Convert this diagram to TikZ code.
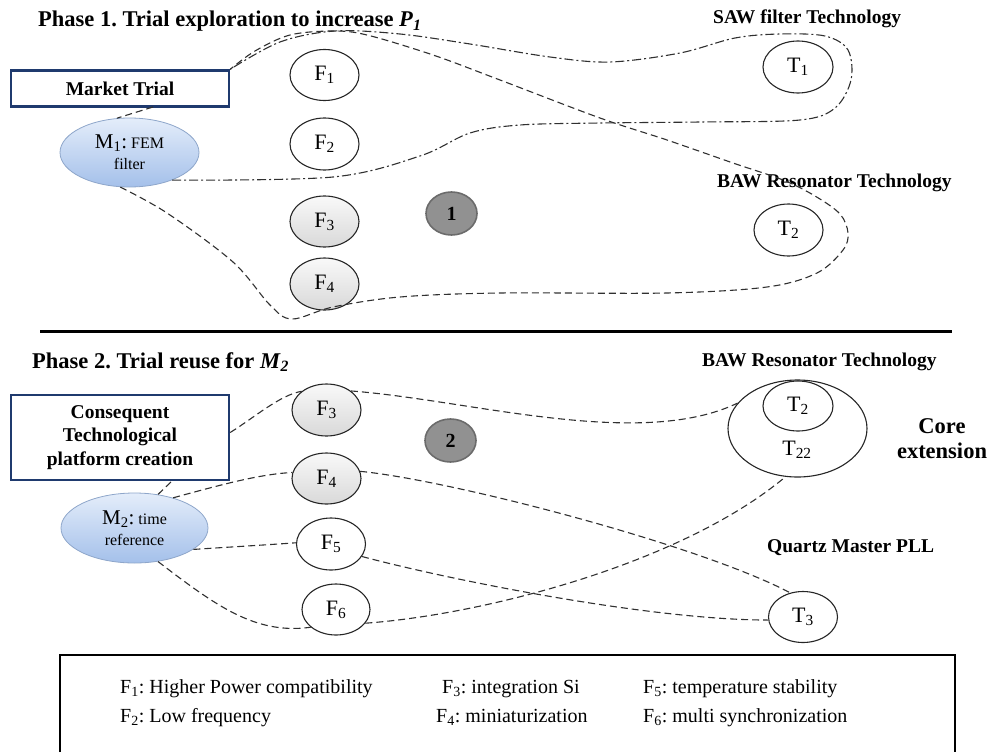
\documentclass[tikz,border=0pt]{standalone}
\usepackage{fontspec}
\setmainfont{Liberation Serif}
\usetikzlibrary{shapes.geometric}
\definecolor{navy}{HTML}{1F3A6E}
\definecolor{mtop}{HTML}{E4EDFA}
\definecolor{mbot}{HTML}{A4C0EA}
\definecolor{mbord}{HTML}{8EA6CA}
\definecolor{curvecol}{HTML}{303030}
\newcommand\setfs[1]{\fontsize{#1}{#1}\selectfont}
\begin{document}
\frenchspacing
\begin{tikzpicture}[x=1pt,y=-1pt,
  fell/.style={ellipse, draw=black!85, line width=1.1pt, inner sep=0pt,
    minimum width=69pt, minimum height=51pt, fill=white, font=\setfs{22}},
  gell/.style={fell, top color=gray!5, bottom color=gray!30},
  mell/.style={ellipse, draw=mbord, line width=0.8pt, top color=mtop,
    bottom color=mbot, inner sep=0pt, align=center, font=\fontsize{16}{21}\selectfont},
  numc/.style={ellipse, draw=black!58, line width=1.6pt, fill=black!43,
    inner sep=0pt, minimum width=51pt, minimum height=43pt, font=\bfseries\setfs{20}},
  navybox/.style={draw=navy, line width=2.4pt, fill=white, align=center,
    inner sep=0pt, font=\bfseries\fontsize{19.5}{23.5}\selectfont},
  dashc/.style={draw=curvecol, line width=1.1pt, dash pattern=on 7pt off 4pt},
  dashdotc/.style={draw=curvecol, line width=1.1pt, dash pattern=on 9pt off 3pt on 2pt off 3pt},
  lbl/.style={font=\bfseries\setfs{19.5}, inner sep=0pt, anchor=base west},
  ttl/.style={font=\bfseries\setfs{22.5}, inner sep=0pt, anchor=base west},
  leg/.style={font=\setfs{20}, inner sep=0pt, anchor=base west}
]
\useasboundingbox (0,0) rectangle (992,752);

% ---------- Phase 1 ----------
\node[ttl] (title1) at (38,27) {Phase 1. Trial exploration to increase \textit{P}\textsubscript{\textit{1}}};
\node[lbl] (saw) at (713,24) {SAW filter Technology};
\node[lbl] (baw1) at (717,187) {BAW Resonator Technology};

\node[navybox, minimum width=218pt, minimum height=36pt] (MT) at (120,88.5) {Market Trial};
\node[mell, minimum width=139pt, minimum height=69pt] (M1) at (129.5,152.5)
  {{\fontsize{21}{21}\selectfont M\textsubscript{1}:} FEM\\filter};

\node[fell] (F1) at (324.5,75) {F\textsubscript{1}};
\node[fell, minimum height=52pt] (F2) at (324.5,144) {F\textsubscript{2}};
\node[gell] (F3) at (324.5,221.5) {F\textsubscript{3}};
\node[gell, minimum height=52pt] (F4) at (324.5,284) {F\textsubscript{4}};
\node[numc] (n1) at (451.5,213.5) {1};

\node[fell, minimum width=70pt, minimum height=52pt] (T1) at (798,67) {T\textsubscript{1}};
\node[fell, minimum height=52pt] (T2) at (788.5,230) {T\textsubscript{2}};

\coordinate (mt1) at (153,107);
\draw[dashc] (mt1) -- (M1.110);

\draw[dashdotc] plot[smooth, tension=0.55] coordinates {
  (M1.-33) (333,177) (420,156) (470,133) (520,125) (600,123) (700,122)
  (800,120) (835,108) (851,80) (848,50) (825,36) (780,34) (735,38)
  (680,53) (610,62) (550,57) (470,44) (400,34) (335,31) (280,42) (MT.north east)};

\draw[dashc] plot[smooth, tension=0.55] coordinates {
  (M1.-105) (167,213) (233,262) (270,305) (292,319) (333,307) (400,297)
  (500,293) (667,293) (767,287) (817,273) (843,250) (848,233) (840,214)
  (815,196) (783,180) (733,163) (667,140) (600,118) (500,80) (433,55)
  (367,35) (333,31) (290,35) (255,51) (MT.north east)};

% ---------- separator ----------
\coordinate (sepL) at (40,331);
\coordinate (sepR) at (952,331);
\draw[line width=3pt] (sepL) -- (sepR);

% ---------- Phase 2 ----------
\node[ttl] (title2) at (32,368) {Phase 2. Trial reuse for \textit{M}\textsubscript{\textit{2}}};
\node[lbl] (baw2) at (702,366) {BAW Resonator Technology};
\node[lbl] (quartz) at (767,552) {Quartz Master PLL};
\node[font=\bfseries\fontsize{22.5}{25}\selectfont, align=center, inner sep=0pt]
  (core) at (942,439) {Core\\extension};

\node[navybox, minimum width=218pt, minimum height=85pt] (CB) at (120,437.5)
  {Consequent\\Technological\\platform creation};
\node[mell, minimum width=147pt, minimum height=70pt] (M2) at (134.5,528)
  {{\fontsize{21}{21}\selectfont M\textsubscript{2}:} time\\reference};

\node[gell, minimum height=52pt] (F3b) at (326.5,410) {F\textsubscript{3}};
\node[numc] (n2) at (450.5,440.5) {2};
\node[gell] (F4b) at (326.5,478.5) {F\textsubscript{4}};
\node[fell, minimum height=52pt] (F5) at (331,544) {F\textsubscript{5}};
\node[fell, minimum width=68pt] (F6) at (336,609.5) {F\textsubscript{6}};

\node[ellipse, draw=black!85, line width=1.1pt, minimum width=139pt,
  minimum height=97pt, inner sep=0pt] (T22) at (797.5,428.5) {};
\node[fell, minimum width=70pt, minimum height=50pt] (T2b) at (798,406) {T\textsubscript{2}};
\node[font=\setfs{22}, inner sep=0pt] (T22t) at (797,450) {T\textsubscript{22}};
\node[fell] (T3) at (803,617) {T\textsubscript{3}};

\coordinate (cb1) at (173,480);
\draw[dashc] (M2.55) -- (cb1);
\draw[dashc] ([yshift=5pt]CB.east) .. controls (255,417) and (280,395) .. (F3b.143);
\draw[dashc] (F3b.38) .. controls (470,400) and (640,450) .. (T22.157);
\draw[dashc] (M2.38) .. controls (220,485) and (260,474) .. (F4b.170);
\draw[dashc] (F4b.12) .. controls (450,480) and (700,545) .. (T3.118);
\draw[dashc] (M2.-20) .. controls (230,547) and (265,545) .. (F5.178);
\draw[dashc] (F5.-22) .. controls (450,580) and (650,620) .. (T3.185);
\draw[dashc] (M2.-55) .. controls (215,605) and (255,635) .. (F6.-145);
\draw[dashc] (F6.-25) .. controls (480,615) and (680,565) .. (T22.-104);

% ---------- legend ----------
\coordinate (lgA) at (60,752);
\coordinate (lgB) at (60,655);
\coordinate (lgC) at (955,655);
\coordinate (lgD) at (955,752);
\draw[line width=2pt] (lgA) -- (lgB) -- (lgC) -- (lgD);
\node[leg] (l1) at (120,693) {F\textsubscript{1}: Higher Power compatibility};
\node[leg] (l2) at (120,722) {F\textsubscript{2}: Low frequency};
\node[leg] (l3) at (442,693) {F\textsubscript{3}: integration Si};
\node[leg] (l4) at (436,722) {F\textsubscript{4}: miniaturization};
\node[leg] (l5) at (643,693) {F\textsubscript{5}: temperature stability};
\node[leg] (l6) at (643,722) {F\textsubscript{6}: multi synchronization};
\end{tikzpicture}
\end{document}
